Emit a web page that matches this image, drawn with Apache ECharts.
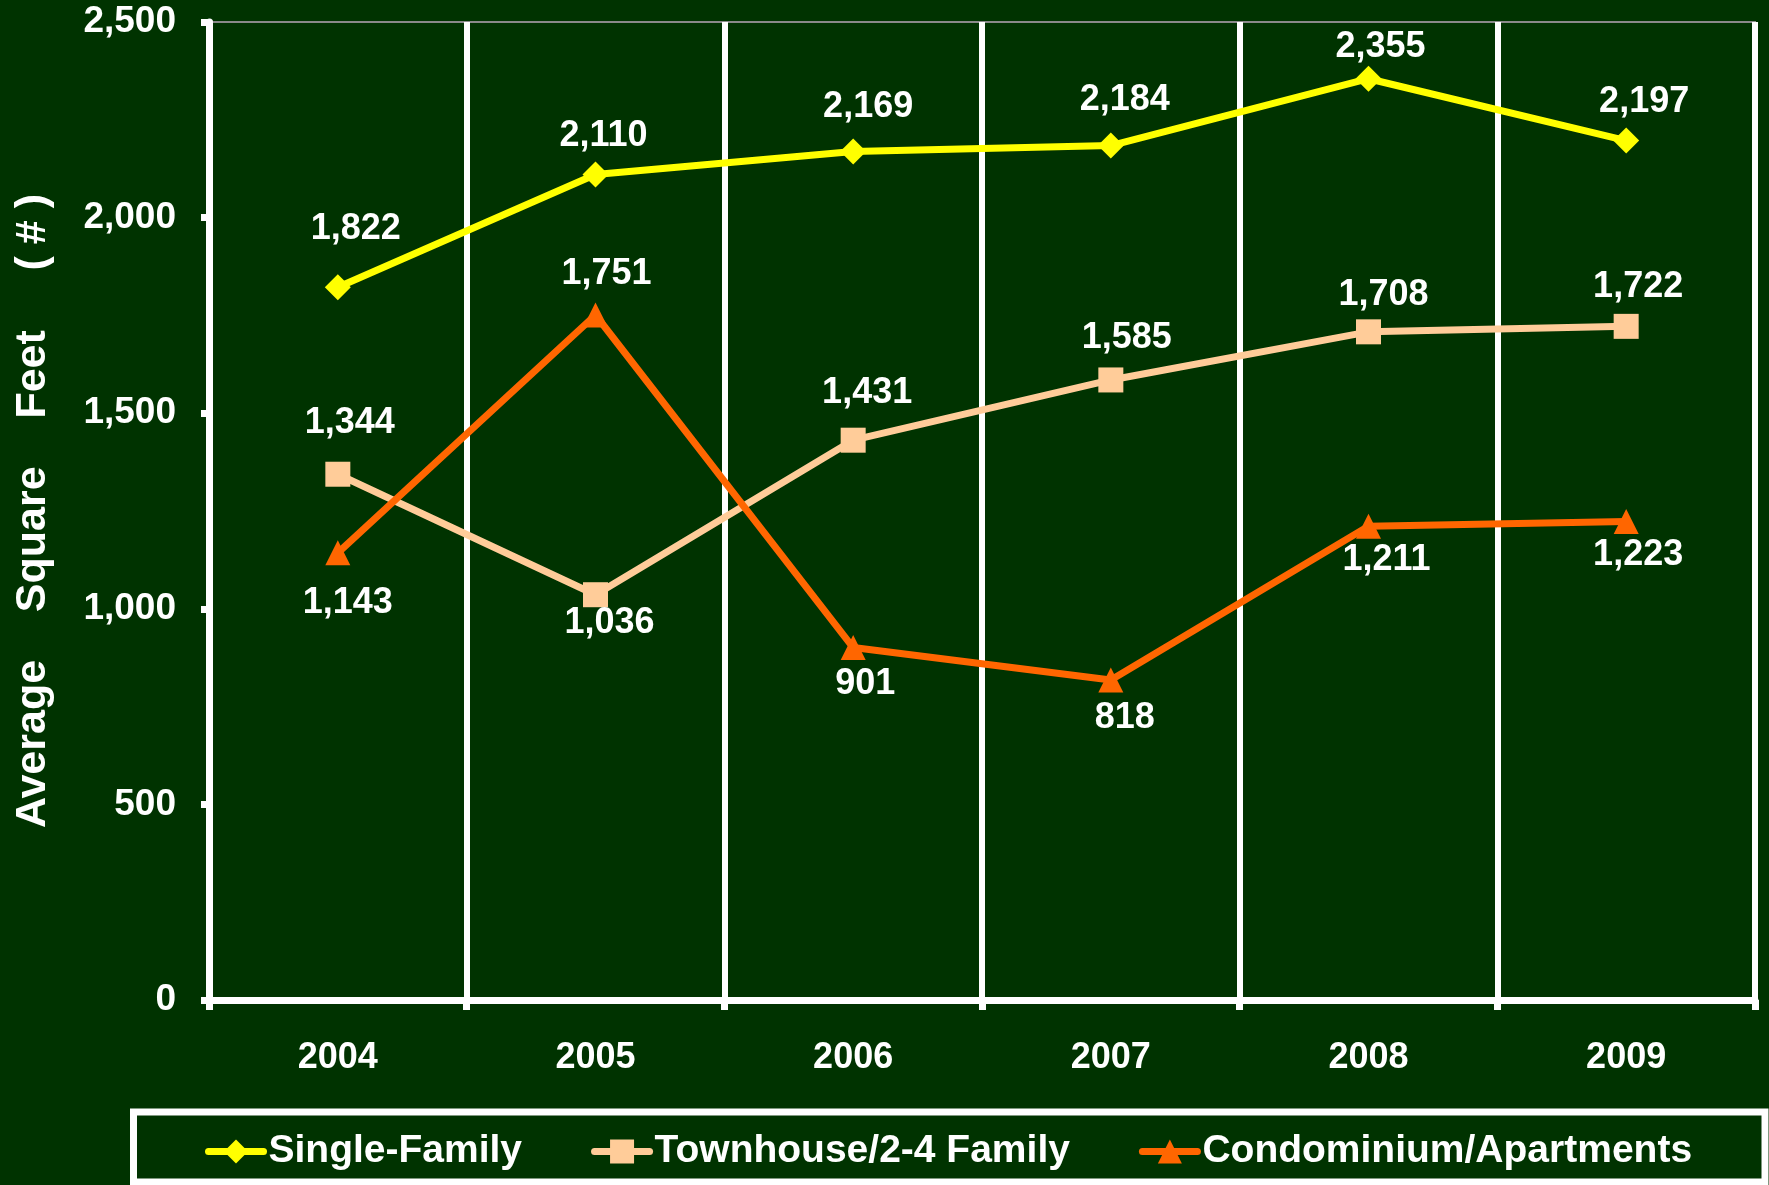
<!DOCTYPE html>
<html>
<head>
<meta charset="utf-8">
<title>Average Square Feet by Housing Type, 2004-2009</title>
<script src="https://cdn.jsdelivr.net/npm/echarts@6/dist/echarts.min.js"></script>
<style>
  html, body { margin: 0; padding: 0; background: #003300; }
  #chart { width: 1769px; height: 1185px; }
</style>
</head>
<body>
<div id="chart"></div>
<script>
// Years on the category axis
const years = ['2004', '2005', '2006', '2007', '2008', '2009'];

// Average square feet per housing type
const singleFamily = [1822, 2110, 2169, 2184, 2355, 2197];
const townhouse = [1344, 1036, 1431, 1585, 1708, 1722];
const condoApartments = [1143, 1751, 901, 818, 1211, 1223];

// Value axis ticks
const yTicks = [0, 500, 1000, 1500, 2000, 2500];

// Label placement around each point: [dx, dy] in pixels from the marker centre
const singleLabelShift = [[18, -58], [8, -38], [15, -44], [14, -46], [12, -32], [18, -38]];
const townLabelShift = [[12, -51], [14, 28], [14, -47], [16, -42], [15, -37], [12, -39]];
const condoLabelShift = [[10, 50], [11, -41], [12, 37], [14, 38], [18, 34], [12, 34]];

const FONT = "'Liberation Sans', Arial, Helvetica, sans-serif";
const fmt = v => Number(v).toLocaleString('en-US');

function withLabels(values, shifts) {
  return values.map((v, i) => ({
    value: v,
    label: { offset: shifts[i] }
  }));
}

function lineSeries(name, values, shifts, color, symbol, size) {
  return {
    name: name,
    type: 'line',
    data: withLabels(values, shifts),
    symbol: symbol,
    symbolSize: size,
    lineStyle: { color: color, width: 7 },
    itemStyle: { color: color },
    label: {
      show: true,
      position: 'inside',
      color: '#ffffff',
      fontFamily: FONT,
      fontWeight: 'bold',
      fontSize: 36,
      formatter: p => fmt(p.value)
    },
    emphasis: { disabled: true },
    animation: false
  };
}

const chart = echarts.init(document.getElementById('chart'), null, { renderer: 'canvas' });

chart.setOption({
  backgroundColor: '#003300',
  animation: false,
  grid: {
    left: 209, right: 14, top: 22, bottom: 185,
    show: true, borderColor: '#8a8a8a', borderWidth: 2, backgroundColor: 'transparent'
  },
  xAxis: {
    type: 'category',
    data: years,
    boundaryGap: true,
    axisLine: { show: true, lineStyle: { color: '#ffffff', width: 7 } },
    axisTick: { show: true, length: 10, lineStyle: { color: '#ffffff', width: 7 } },
    splitLine: { show: true, lineStyle: { color: '#ffffff', width: 6 } },
    axisLabel: {
      color: '#ffffff', fontFamily: FONT, fontWeight: 'bold', fontSize: 36, margin: 40
    }
  },
  yAxis: {
    type: 'value',
    min: yTicks[0],
    max: yTicks[yTicks.length - 1],
    interval: yTicks[1] - yTicks[0],
    name: 'Average    Square    Feet     ( # )',
    nameLocation: 'middle',
    nameRotate: 90,
    nameGap: 154,
    nameTextStyle: { color: '#ffffff', fontFamily: FONT, fontWeight: 'bold', fontSize: 43 },
    axisLine: { show: true, lineStyle: { color: '#ffffff', width: 7 } },
    axisTick: { show: true, length: 8, lineStyle: { color: '#ffffff', width: 7 } },
    splitLine: { show: false },
    axisLabel: {
      color: '#ffffff', fontFamily: FONT, fontWeight: 'bold', fontSize: 37, margin: 33,
      formatter: v => fmt(v)
    }
  },
  legend: {
    data: ['Single-Family', 'Townhouse/2-4 Family', 'Condominium/Apartments'],
    left: 200,
    top: 1127,
    itemWidth: 55,
    itemHeight: 30,
    itemGap: 69,
    lineStyle: { width: 7, cap: 'round' },
    textStyle: { color: '#ffffff', fontFamily: FONT, fontWeight: 'bold', fontSize: 39 },
    selectedMode: false
  },
  graphic: [{
    type: 'rect',
    z: -1,
    shape: { x: 133.5, y: 1112, width: 1631.5, height: 70 },
    style: { fill: 'transparent', stroke: '#ffffff', lineWidth: 7 }
  }],
  series: [
    lineSeries('Single-Family', singleFamily, singleLabelShift, '#ffff00', 'diamond', 26),
    lineSeries('Townhouse/2-4 Family', townhouse, townLabelShift, '#ffcc99', 'rect', 25),
    lineSeries('Condominium/Apartments', condoApartments, condoLabelShift, '#ff6600', 'triangle', 25)
  ]
});
</script>
</body>
</html>
